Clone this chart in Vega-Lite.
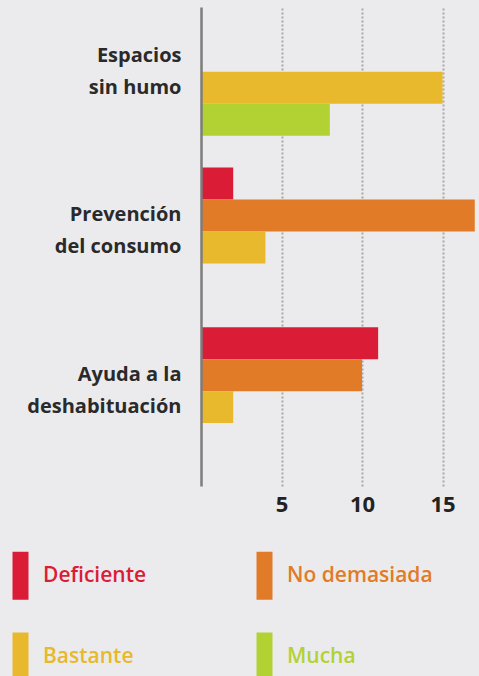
{
  "$schema": "https://vega.github.io/schema/vega-lite/v6.json",
  "width": 277,
  "height": 479,
  "autosize": "none",
  "padding": {"left": 201, "top": 7, "right": 1, "bottom": 190},
  "background": "#ebebed",
  "config": {"view": {"stroke": null}, "font": "Open Sans"},
  "data": {
    "values": [
      {"area": "Espacios sin humo", "nivel": "Deficiente", "valor": 0},
      {"area": "Espacios sin humo", "nivel": "No demasiada", "valor": 0},
      {"area": "Espacios sin humo", "nivel": "Bastante", "valor": 15},
      {"area": "Espacios sin humo", "nivel": "Mucha", "valor": 8},
      {"area": "Prevención del consumo", "nivel": "Deficiente", "valor": 2},
      {"area": "Prevención del consumo", "nivel": "No demasiada", "valor": 17},
      {"area": "Prevención del consumo", "nivel": "Bastante", "valor": 4},
      {"area": "Prevención del consumo", "nivel": "Mucha", "valor": 0},
      {"area": "Ayuda a la deshabituación", "nivel": "Deficiente", "valor": 11},
      {"area": "Ayuda a la deshabituación", "nivel": "No demasiada", "valor": 10},
      {"area": "Ayuda a la deshabituación", "nivel": "Bastante", "valor": 2},
      {"area": "Ayuda a la deshabituación", "nivel": "Mucha", "valor": 0}
    ]
  },
  "mark": {"type": "bar"},
  "encoding": {
    "y": {
      "field": "area",
      "type": "nominal",
      "sort": ["Espacios sin humo", "Prevención del consumo", "Ayuda a la deshabituación"],
      "scale": {"paddingInner": 0.2, "paddingOuter": 0.1, "align": 0.03},
      "axis": {
        "title": null,
        "ticks": false,
        "domainColor": "#7d7d7d",
        "domainWidth": 2.5,
        "zindex": 1,
        "labelFont": "Open Sans",
        "labelFontWeight": "bold",
        "labelFontSize": 20,
        "labelColor": "#2a2a2a",
        "labelAlign": "right",
        "labelBaseline": "middle",
        "labelLineHeight": 32,
        "labelOffset": -16,
        "labelPadding": 20,
        "labelLimit": 200,
        "labelExpr": "datum.value == 'Espacios sin humo' ? ['Espacios', 'sin humo'] : datum.value == 'Prevención del consumo' ? ['Prevención', 'del consumo'] : ['Ayuda a la', 'deshabituación']"
      }
    },
    "yOffset": {
      "field": "nivel",
      "type": "nominal",
      "scale": {"domain": ["Deficiente", "No demasiada", "Bastante", "Mucha"], "paddingInner": 0, "paddingOuter": 0}
    },
    "x": {
      "field": "valor",
      "type": "quantitative",
      "scale": {"domain": [0, 17.2], "nice": false},
      "axis": {
        "title": null,
        "values": [5, 10, 15],
        "domain": false,
        "ticks": false,
        "grid": true,
        "gridColor": "#a8a8a8",
        "gridDash": [2, 2],
        "gridWidth": 2,
        "labelFont": "Open Sans",
        "labelFontWeight": "bold",
        "labelFontSize": 22,
        "labelColor": "#222222",
        "labelPadding": 8
      }
    },
    "color": {
      "field": "nivel",
      "type": "nominal",
      "scale": {
        "domain": ["Deficiente", "No demasiada", "Bastante", "Mucha"],
        "range": ["#db1c37", "#e27b27", "#e8b82d", "#b2d234"]
      },
      "legend": {
        "title": null,
        "orient": "none",
        "legendX": -191,
        "legendY": 558,
        "direction": "horizontal",
        "columns": 2,
        "symbolType": "M-1,-3H1V3H-1Z",
        "symbolSize": 256,
        "symbolStrokeWidth": 0,
        "symbolOpacity": 1,
        "labelFont": "Open Sans",
        "labelFontSize": 21,
        "labelFontWeight": 600,
        "labelOffset": 12,
        "columnPadding": 107,
        "rowPadding": 32,
        "labelColor": {"expr": "scale('color', datum.value)"}
      }
    }
  }
}
